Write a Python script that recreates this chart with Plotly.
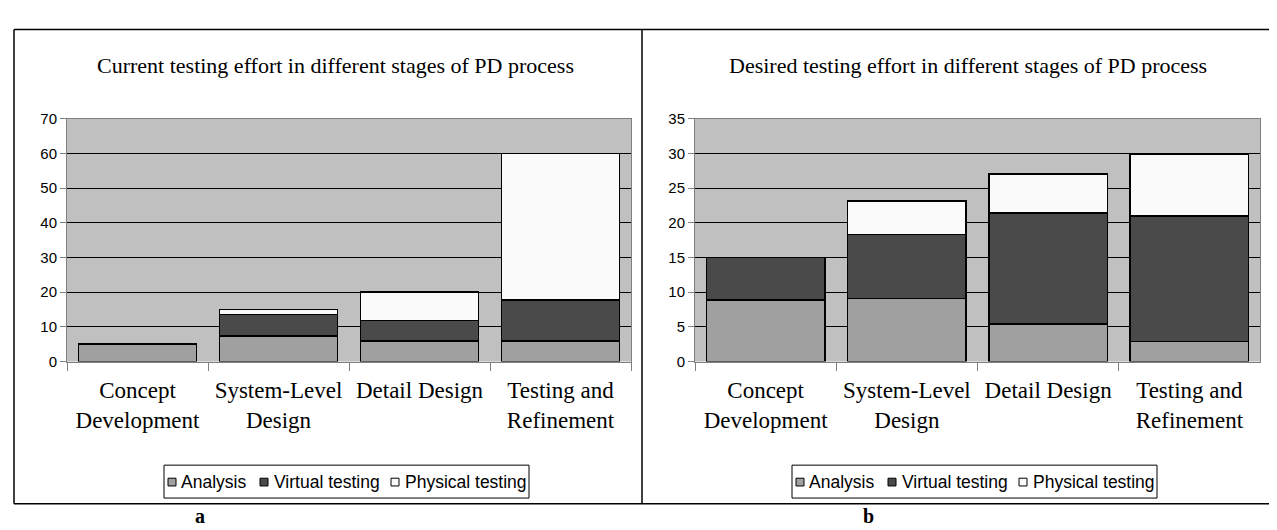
import plotly.graph_objects as go

stages = ["Concept<br>Development", "System-Level<br>Design", "Detail Design", "Testing and<br>Refinement"]
series_names = ["Analysis", "Virtual testing", "Physical testing"]

current_analysis = [5, 7.3, 6, 6]
current_virtual = [0, 6.2, 5.8, 11.8]
current_physical = [0, 1.5, 8.2, 42.2]

desired_analysis = [8.9, 9.1, 5.4, 2.9]
desired_virtual = [6.1, 9.2, 16.0, 18.1]
desired_physical = [0, 4.8, 5.6, 8.9]

titles = ["Current testing effort in different stages of PD process",
          "Desired testing effort in different stages of PD process"]
panel_labels = ["a", "b"]

colors = ["#A0A0A0", "#4A4A4A", "#FAFAFA"]

W, H = 1277, 530
def px(x):
    return x / W
def py(y):
    return (H - y) / H

fig = go.Figure()

panels = [
    ([current_analysis, current_virtual, current_physical], "x", "y"),
    ([desired_analysis, desired_virtual, desired_physical], "x2", "y2"),
]
for data, xa, ya in panels:
    for name, vals, col in zip(series_names, data, colors):
        fig.add_trace(go.Bar(
            x=stages, y=vals, name=name, xaxis=xa, yaxis=ya, showlegend=False,
            marker=dict(color=col, line=dict(color="black", width=1.5)),
        ))

plot_top, plot_bot = 105, 356
dom_y = [py(plot_bot), py(plot_top)]
tickfont = dict(family="Liberation Sans, Arial", size=15, color="black")
catfont = dict(family="Liberation Serif, Times New Roman", size=23, color="black")

xcommon = dict(type="category", tickson="boundaries", ticks="outside", ticklen=8,
               tickcolor="#808080", showline=True, linecolor="#808080", linewidth=1,
               mirror=True, tickfont=catfont, showgrid=False, fixedrange=True,
               ticklabelstandoff=8, tickangle=0)
ycommon = dict(ticks="outside", ticklen=6, tickcolor="#808080", showline=True,
               linecolor="#808080", linewidth=1, mirror=True, tickfont=tickfont,
               showgrid=True, gridcolor="black", gridwidth=1, zeroline=False,
               fixedrange=True)

fig.update_layout(
    width=W, height=H,
    margin=dict(l=0, r=0, t=0, b=0),
    paper_bgcolor="white",
    plot_bgcolor="#C0C0C0",
    barmode="stack",
    bargap=0.16,
    showlegend=False,
    xaxis=dict(domain=[px(59), px(623)], anchor="y", **xcommon),
    yaxis=dict(domain=dom_y, anchor="x", range=[0, 70], dtick=10, **ycommon),
    xaxis2=dict(domain=[px(687), px(1252)], anchor="y2", **xcommon),
    yaxis2=dict(domain=dom_y, anchor="x2", range=[0, 35], dtick=5, **ycommon),
)

# titles
for t, cx in zip(titles, [327, 960]):
    fig.add_annotation(text=t, x=px(cx), y=py(50), xref="paper", yref="paper",
                       showarrow=False, xanchor="center", yanchor="middle",
                       font=dict(family="Liberation Serif, Times New Roman", size=22, color="black"))
# panel labels
for t, cx in zip(panel_labels, [192, 860]):
    fig.add_annotation(text="<b>%s</b>" % t, x=px(cx), y=py(516), xref="paper", yref="paper",
                       showarrow=False, xanchor="center", yanchor="middle",
                       font=dict(family="Liberation Serif, Times New Roman", size=20, color="black"))

# legends (one per panel)
leg_font = dict(family="Liberation Sans, Arial", size=17.5, color="black")
sq_off = [4, 96, 227]      # square left offsets within the legend box
txt_off = [15, 108, 239]   # text left offsets within the legend box
for lx in [156, 784]:
    fig.add_shape(type="rect", xref="paper", yref="paper",
                  x0=px(lx), x1=px(lx + 365), y0=py(497), y1=py(463),
                  line=dict(color="black", width=1), fillcolor="white")
    for name, col, so, to in zip(series_names, colors, sq_off, txt_off):
        fig.add_shape(type="rect", xref="paper", yref="paper",
                      x0=px(lx + so), x1=px(lx + so + 8), y0=py(484.5), y1=py(476.5),
                      line=dict(color="black", width=1), fillcolor=col)
        fig.add_annotation(text=name, x=px(lx + to), y=py(480.5), xref="paper", yref="paper",
                           showarrow=False, xanchor="left", yanchor="middle",
                           font=leg_font)

# panel frames
line = dict(color="black", width=1.5)
fig.add_shape(type="line", xref="paper", yref="paper", x0=px(6), x1=1, y0=py(13), y1=py(13), line=line)
fig.add_shape(type="line", xref="paper", yref="paper", x0=px(6), x1=1, y0=py(503), y1=py(503), line=line)
fig.add_shape(type="line", xref="paper", yref="paper", x0=px(6), x1=px(6), y0=py(13), y1=py(503), line=line)
fig.add_shape(type="line", xref="paper", yref="paper", x0=px(634), x1=px(634), y0=py(13), y1=py(503), line=line)

fig.write_html("out.html")
